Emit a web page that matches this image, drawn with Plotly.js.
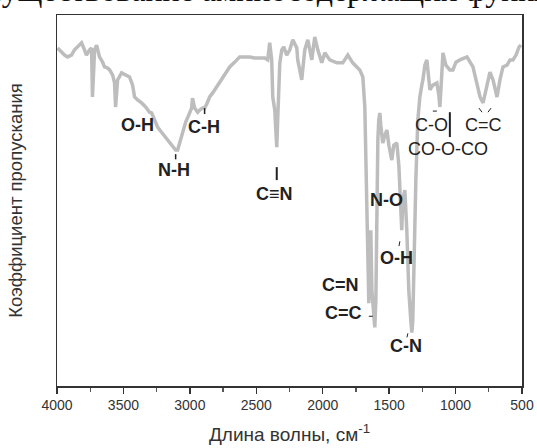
<!DOCTYPE html>
<html>
<head>
<meta charset="utf-8">
<script src="https://cdn.plot.ly/plotly-3.0.1.min.js"></script>
<style>
html,body{margin:0;padding:0;background:#fff;}
#chart{width:537px;height:448px;}
</style>
</head>
<body>
<div id="chart"></div>
<script>
// Wavenumber (cm^-1) and transmittance (arbitrary %)
const wavenumber = [
3996,3966,3943,3921,3891,3868,3846,3815,3793,3778,3755,3740,3733,3717,3702,3680,3657,3642,3619,3604,
3581,3567,3559,3544,3514,3484,3454,3431,3416,3393,3363,3333,3303,3288,3265,3243,3213,3183,3167,3137,
3107,3092,3069,3054,3032,3002,2987,2980,2964,2941,2926,2904,2889,2873,2851,2828,2798,2775,2753,2723,
2700,2662,2625,2587,2549,2512,2474,2436,2414,2399,2384,2376,2361,2354,2346,2339,2331,2323,2308,2293,
2271,2248,2225,2195,2188,2158,2135,2112,2082,2060,2037,2007,1984,1947,1894,1849,1811,1774,1721,1698,
1683,1676,1668,1661,1653,1645,1638,1630,1615,1608,1600,1593,1585,1578,1570,1563,1548,1532,1517,1502,
1495,1480,1465,1442,1427,1412,1405,1397,1382,1367,1352,1337,1329,1322,1314,1299,1284,1269,1254,1246,
1231,1216,1201,1193,1171,1141,1126,1118,1103,1095,1073,1043,1020,997,967,937,914,891,869,846,
816,793,771,741,718,688,666,643,613,590,568,545,522,507
];
const transmittance = [
91.1,90.0,89.2,88.7,89.2,90.6,91.4,92.5,90.6,89.2,90.6,91.1,77.9,90.6,91.9,88.7,87.3,86.0,85.7,85.2,
83.8,81.7,75.2,82.5,84.4,83.8,83.3,81.1,77.9,77.1,76.3,75.2,73.8,73.6,71.7,69.8,68.4,67.1,66.3,65.2,
63.6,63.6,66.3,68.4,71.1,73.6,74.9,77.6,74.9,73.8,74.4,74.9,74.9,76.0,77.9,79.0,80.6,81.9,83.3,84.6,
86.0,87.3,88.7,88.7,88.7,88.4,88.4,88.4,87.9,92.5,87.9,77.9,74.4,69.0,64.4,71.7,78.4,87.1,90.6,91.4,
89.2,90.6,93.3,91.1,87.9,82.5,90.6,93.3,87.9,94.1,90.6,87.1,89.8,87.9,87.1,87.1,89.2,87.1,85.2,83.3,
75.2,60.9,42.0,25.8,22.3,31.2,42.0,25.8,17.7,15.8,23.1,50.1,66.3,71.7,73.6,70.3,65.5,67.6,69.0,64.9,
63.6,60.9,64.9,65.5,59.5,50.1,42.0,50.1,52.8,42.0,25.8,17.7,14.4,17.7,33.9,55.5,71.7,77.9,81.1,82.5,
86.5,87.9,82.5,79.8,81.1,81.7,78.4,75.2,84.6,89.8,86.5,85.2,85.2,87.3,87.9,88.4,88.7,87.3,86.0,82.5,
77.9,76.3,79.8,84.6,82.5,77.9,82.5,86.0,86.5,87.9,87.9,89.2,91.4,91.9
];
const tickValues = [4000,3500,3000,2500,2000,1500,1000,500];
const tickLabels = ["4000","3500","3000","2500","2000","1500","1000","500"];

// Band labels
const labelText = ["O-H","N-H","C-H","C\u2261N","C=N","C=C","N-O","O-H","C-N","C-O","C=C","CO-O-CO"];
const labelX    = [3397,3122,2896,2361,1864,1841,1517,1442,1374,1178,793,1058];
const labelY    = [70.3,58.2,69.8,51.7,27.1,19.6,50.1,34.4,10.9,70.3,70.3,63.8];
const labelBold = [true,true,true,true,true,true,true,true,true,false,false,false];

const annotations = labelText.map((t,i)=>({
  x: labelX[i], y: labelY[i], xref:'x', yref:'y', showarrow:false,
  text: labelBold[i] ? '<b>'+t+'</b>' : t,
  font:{family:'Liberation Sans, Arial, sans-serif', size:18, color:'#222'},
  xanchor:'center', yanchor:'middle'
}));

// clipped document text at the top
annotations.push({
  xref:'paper', yref:'paper', x:-0.153, y:1.0145, xanchor:'left', yanchor:'bottom',
  showarrow:false, text:'существование аминосодержащих функциональных',
  font:{family:'Liberation Serif, Times New Roman, serif', size:32, color:'#111'}
});

// little pointer marks near labels
function seg(x0,y0,x1,y1,w){return {type:'line',xref:'x',yref:'y',x0:x0,y0:y0,x1:x1,y1:y1,line:{color:'#222',width:w||1.5}};}
const shapes = [
  seg(1043,73.8,1043,67.1,2),
  seg(2346,59.0,2346,55.5,2),
  seg(3107,62.5,3107,61.1,1.5),
  seg(2889,74.9,2889,73.3,1.5),
  seg(1171,74.1,1141,74.1,1),
  seg(824,74.9,801,73.8,1),
  seg(756,73.8,733,74.9,1),
  seg(1419,39.0,1426,37.7,1),
  seg(1359,14.2,1366,13.1,1),
  seg(1653,18.8,1623,18.8,1)
];

const trace = {
  x: wavenumber, y: transmittance, type:'scatter', mode:'lines',
  line:{color:'#bdbdbd', width:3.5}, hoverinfo:'skip'
};

const layout = {
  width:537, height:448,
  margin:{l:57, r:15, t:15, b:62},
  paper_bgcolor:'#fff', plot_bgcolor:'#fff',
  showlegend:false,
  xaxis:{
    range:[4000,500], showgrid:false, zeroline:false,
    showline:true, mirror:true, linecolor:'#333', linewidth:1.5,
    ticks:'outside', ticklen:6, tickwidth:1.5, tickcolor:'#333',
    tickvals:tickValues, ticktext:tickLabels,
    minor:{ticks:'outside', ticklen:4, tickwidth:1.2, tickcolor:'#555', dtick:250, tick0:500, showgrid:false},
    tickfont:{family:'Liberation Sans, Arial, sans-serif', size:14, color:'#333'},
    title:{text:'Длина волны, см<sup>-1</sup>', standoff:15,
      font:{family:'Liberation Sans, Arial, sans-serif', size:19, color:'#333'}}
  },
  yaxis:{
    range:[0,100], showgrid:false, zeroline:false,
    showline:true, mirror:true, linecolor:'#333', linewidth:1.5,
    ticks:'', showticklabels:false,
    title:{text:'Коэффициент пропускания', standoff:28,
      font:{family:'Liberation Sans, Arial, sans-serif', size:18.5, color:'#333'}}
  },
  annotations: annotations,
  shapes: shapes
};

Plotly.newPlot('chart',[trace],layout,{displayModeBar:false, staticPlot:true});
</script>
</body>
</html>
